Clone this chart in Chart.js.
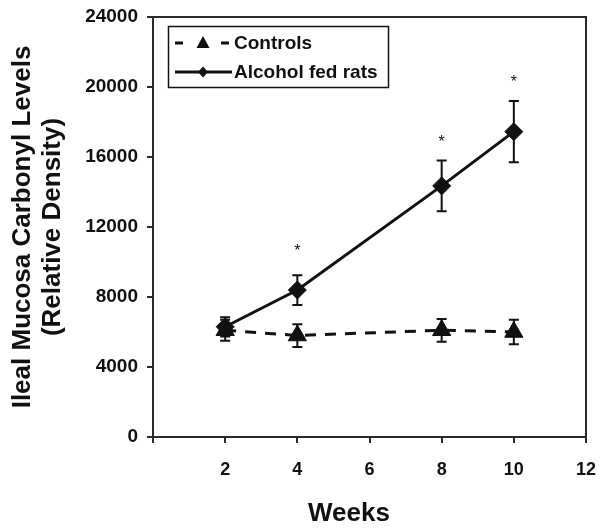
<!DOCTYPE html>
<html>
<head>
<meta charset="utf-8">
<script src="https://cdn.jsdelivr.net/npm/chart.js@4/dist/chart.umd.min.js"></script>
<style>
  html, body { margin: 0; padding: 0; background: #fff; }
  #wrap { width: 602px; height: 531px; }
</style>
</head>
<body>
<div id="wrap"><canvas id="c" width="602" height="531"></canvas></div>
<script>
// ---- data ----
const weeks = [2, 4, 8, 10];
const controls = [6100, 5800, 6100, 6000];
const controlsErr = [600, 650, 650, 700];
const alcohol = [6300, 8400, 14350, 17450];
const alcoholErr = [550, 850, 1450, 1750];
const starLevels = [null, 10800, 17050, 20450];   // "*" significance marks
const xTicks = [0, 2, 4, 6, 8, 10, 12];
const yTicks = [0, 4000, 8000, 12000, 16000, 20000, 24000];
const seriesNames = ['Controls', 'Alcohol fed rats'];
const yTitle = ['Ileal Mucosa Carbonyl Levels', '(Relative Density)'];
const xTitle = 'Weeks';

const FONT = '"Liberation Sans", Arial, Helvetica, sans-serif';
const INK = '#111';
const AXIS = '#2a2a2a';
Chart.defaults.font.family = FONT;
Chart.defaults.color = INK;

const toPts = (vals) => weeks.map((w, i) => ({ x: w, y: vals[i] }));

const extras = {
  id: 'extras',
  beforeDatasetsDraw(chart) {
    const { ctx, scales: { x, y } } = chart;
    ctx.save();
    ctx.strokeStyle = INK;
    ctx.lineWidth = 2;
    const bars = [[controls, controlsErr], [alcohol, alcoholErr]];
    bars.forEach(([vals, errs]) => {
      weeks.forEach((w, i) => {
        const px = x.getPixelForValue(w);
        const top = y.getPixelForValue(vals[i] + errs[i]);
        const bot = y.getPixelForValue(vals[i] - errs[i]);
        ctx.beginPath();
        ctx.moveTo(px, top); ctx.lineTo(px, bot);
        ctx.moveTo(px - 5, top); ctx.lineTo(px + 5, top);
        ctx.moveTo(px - 5, bot); ctx.lineTo(px + 5, bot);
        ctx.stroke();
      });
    });
    ctx.restore();
  },
  afterDraw(chart) {
    const { ctx, chartArea: a, scales: { x, y } } = chart;
    ctx.save();
    // frame top & right
    ctx.strokeStyle = AXIS;
    ctx.lineWidth = 2;
    ctx.beginPath();
    ctx.moveTo(a.left, a.top); ctx.lineTo(a.right, a.top); ctx.lineTo(a.right, a.bottom);
    ctx.stroke();

    // significance stars
    ctx.fillStyle = INK;
    ctx.font = '16px ' + FONT;
    ctx.textAlign = 'center';
    ctx.textBaseline = 'alphabetic';
    weeks.forEach((w, i) => {
      if (starLevels[i] == null) return;
      ctx.fillText('*', x.getPixelForValue(w), y.getPixelForValue(starLevels[i]) + 8);
    });

    // x title
    ctx.font = 'bold 26px ' + FONT;
    ctx.textBaseline = 'middle';
    ctx.fillText(xTitle, 349, 514);

    // legend box
    ctx.strokeStyle = INK;
    ctx.lineWidth = 1.5;
    ctx.strokeRect(168.5, 26.5, 220, 61);
    ctx.lineWidth = 3;
    ctx.fillStyle = INK;
    const r1 = 43, r2 = 72;
    // row 1 : dashed with triangle
    ctx.beginPath();
    ctx.moveTo(175, r1); ctx.lineTo(183, r1);
    ctx.moveTo(221, r1); ctx.lineTo(229, r1);
    ctx.stroke();
    ctx.beginPath();
    ctx.moveTo(203, r1 - 7); ctx.lineTo(209.5, r1 + 5); ctx.lineTo(196.5, r1 + 5); ctx.closePath();
    ctx.fill();
    // row 2 : solid with diamond
    ctx.beginPath();
    ctx.moveTo(175, r2); ctx.lineTo(232, r2);
    ctx.stroke();
    ctx.beginPath();
    ctx.moveTo(203, r2 - 5.5); ctx.lineTo(208, r2); ctx.lineTo(203, r2 + 5.5); ctx.lineTo(198, r2); ctx.closePath();
    ctx.fill();
    ctx.font = 'bold 19px ' + FONT;
    ctx.textAlign = 'left';
    ctx.textBaseline = 'middle';
    ctx.fillText(seriesNames[0], 234, r1 + 1);
    ctx.fillText(seriesNames[1], 234, r2 + 1);
    ctx.restore();
  }
};

new Chart(document.getElementById('c'), {
  type: 'line',
  data: {
    datasets: [
      {
        label: seriesNames[0],
        data: toPts(controls),
        borderColor: INK,
        backgroundColor: INK,
        borderWidth: 3,
        borderDash: [11, 9],
        pointStyle: 'triangle',
        pointRadius: 10.5,
        pointBorderWidth: 1,
        pointBackgroundColor: INK,
        pointBorderColor: INK,
        tension: 0
      },
      {
        label: seriesNames[1],
        data: toPts(alcohol),
        borderColor: INK,
        backgroundColor: INK,
        borderWidth: 3,
        pointStyle: 'rectRot',
        pointRadius: 9,
        pointBorderWidth: 1,
        pointBackgroundColor: INK,
        pointBorderColor: INK,
        tension: 0
      }
    ]
  },
  options: {
    responsive: false,
    animation: false,
    layout: { padding: { left: 0, right: 16, top: 17, bottom: 0 } },
    plugins: { legend: { display: false }, tooltip: { enabled: false } },
    scales: {
      x: {
        type: 'linear',
        min: xTicks[0],
        max: xTicks[xTicks.length - 1],
        afterBuildTicks: (s) => { s.ticks = xTicks.map(v => ({ value: v })); },
        afterFit: (s) => { s.height = 94; s.paddingLeft = 0; s.paddingRight = 0; },
        ticks: {
          font: { size: 18, weight: 'bold' },
          color: INK,
          padding: 16,
          maxRotation: 0,
          callback: (v) => (v === 0 ? '' : String(v))
        },
        grid: { drawOnChartArea: false, drawTicks: true, tickLength: 6, color: AXIS, lineWidth: 2 },
        border: { color: AXIS, width: 2 }
      },
      y: {
        min: yTicks[0],
        max: yTicks[yTicks.length - 1],
        afterBuildTicks: (s) => { s.ticks = yTicks.map(v => ({ value: v })); },
        afterFit: (s) => { s.width = 153; s.paddingTop = 0; s.paddingBottom = 0; },
        ticks: {
          font: { size: 19, weight: 'bold' },
          color: INK,
          padding: 9,
          callback: (v) => String(v)
        },
        title: {
          display: true,
          text: yTitle,
          font: { size: 26, weight: 'bold', lineHeight: 1.15 },
          color: INK,
          padding: { top: 8, bottom: 0 }
        },
        grid: { drawOnChartArea: false, drawTicks: true, tickLength: 6, color: AXIS, lineWidth: 2 },
        border: { color: AXIS, width: 2 }
      }
    }
  },
  plugins: [extras]
});
</script>
</body>
</html>
